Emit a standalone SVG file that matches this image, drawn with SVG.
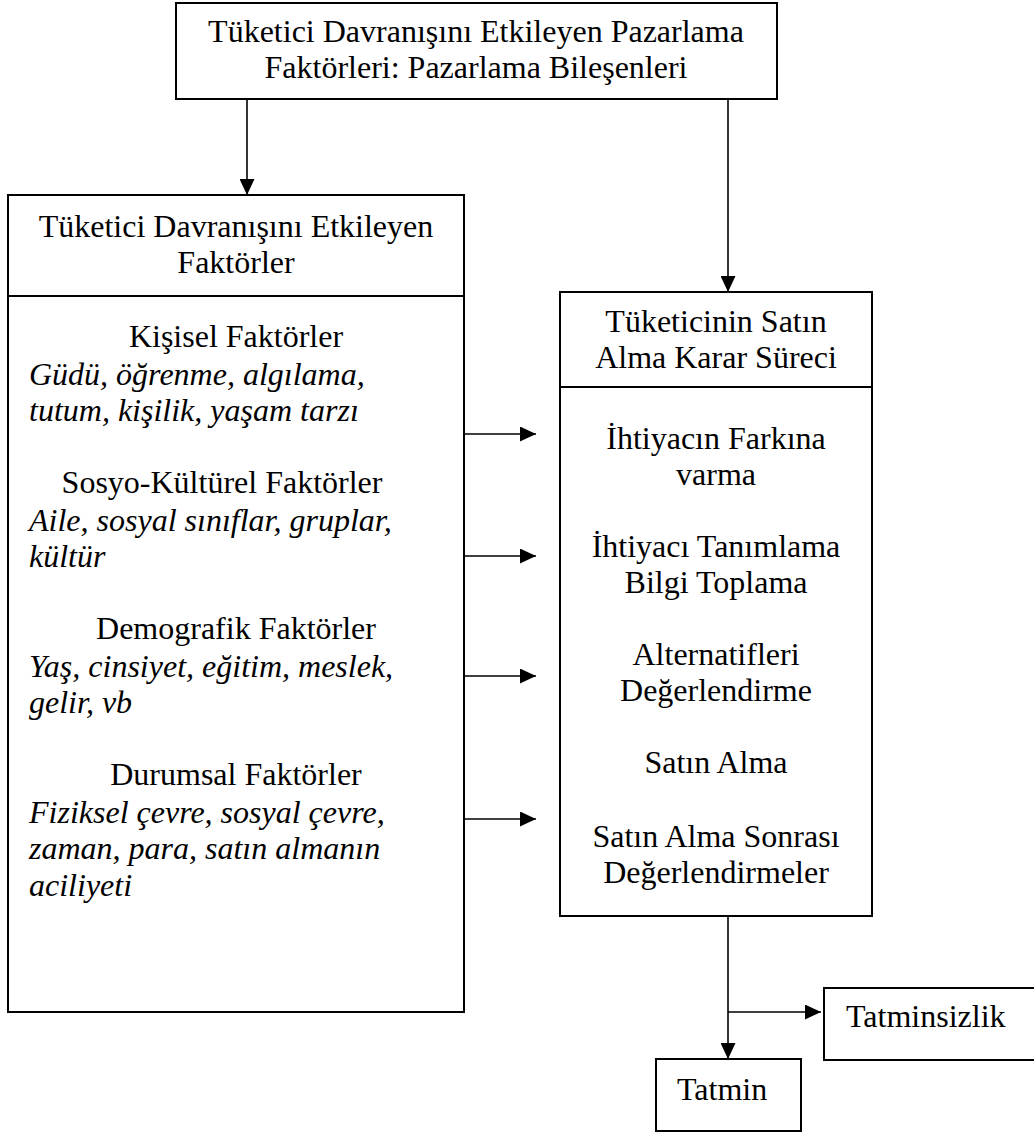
<svg xmlns="http://www.w3.org/2000/svg" width="1034" height="1133" viewBox="0 0 1034 1133">
<style>
.box{fill:#fff;stroke:#000;stroke-width:2}
.div{stroke:#000;stroke-width:2}
.ln{stroke:#000;stroke-width:1.6;fill:none}
.c{text-anchor:middle}
.i{font-style:italic}
</style>
<defs>
<marker id="ah" viewBox="0 0 16 15" refX="16" refY="7.5" markerWidth="16" markerHeight="15" markerUnits="userSpaceOnUse" orient="auto">
<path d="M0,0 L16,7.5 L0,15 Z" fill="#000"/>
</marker>
</defs>
<rect width="1034" height="1133" fill="#fff"/>
<g id="connectors">
<line class="ln" x1="247" y1="99" x2="247" y2="195" marker-end="url(#ah)"/>
<line class="ln" x1="728" y1="99" x2="728" y2="292" marker-end="url(#ah)"/>
<line class="ln" x1="464" y1="434" x2="536" y2="434" marker-end="url(#ah)"/>
<line class="ln" x1="464" y1="556" x2="536" y2="556" marker-end="url(#ah)"/>
<line class="ln" x1="464" y1="676" x2="536" y2="676" marker-end="url(#ah)"/>
<line class="ln" x1="464" y1="819" x2="536" y2="819" marker-end="url(#ah)"/>
<line class="ln" x1="728" y1="916" x2="728" y2="1059" marker-end="url(#ah)"/>
<line class="ln" x1="728" y1="1012" x2="821" y2="1012" marker-end="url(#ah)"/>
</g>
<g font-family="Liberation Serif, Times New Roman, Times, Tinos, DejaVu Serif, Noto Serif, Nimbus Roman, FreeSerif, serif" font-size="32" fill="#000">
<g id="top">
<rect class="box" x="176" y="3" width="601" height="96"/>
<text class="c" x="476" y="42">Tüketici Davranışını Etkileyen Pazarlama</text>
<text class="c" x="476" y="78">Faktörleri: Pazarlama Bileşenleri</text>
</g>
<g id="left">
<rect class="box" x="8" y="195" width="456" height="817"/>
<line class="div" x1="8" y1="296" x2="464" y2="296"/>
<text class="c" x="236" y="237">Tüketici Davranışını Etkileyen</text>
<text class="c" x="236" y="273">Faktörler</text>
<text class="c" x="236" y="347">Kişisel Faktörler</text>
<text class="i" x="29" y="385">Güdü, öğrenme, algılama,</text>
<text class="i" x="29" y="421">tutum, kişilik, yaşam tarzı</text>
<text class="c" x="222" y="493">Sosyo-Kültürel Faktörler</text>
<text class="i" x="29" y="531">Aile, sosyal sınıflar, gruplar,</text>
<text class="i" x="29" y="567">kültür</text>
<text class="c" x="236" y="639">Demografik Faktörler</text>
<text class="i" x="29" y="677">Yaş, cinsiyet, eğitim, meslek,</text>
<text class="i" x="29" y="713">gelir, vb</text>
<text class="c" x="236" y="785">Durumsal Faktörler</text>
<text class="i" x="29" y="823">Fiziksel çevre, sosyal çevre,</text>
<text class="i" x="29" y="859">zaman, para, satın almanın</text>
<text class="i" x="29" y="896">aciliyeti</text>
</g>
<g id="right">
<rect class="box" x="560" y="292" width="312" height="624"/>
<line class="div" x1="560" y1="387" x2="872" y2="387"/>
<text class="c" x="716" y="332">Tüketicinin Satın</text>
<text class="c" x="716" y="368">Alma Karar Süreci</text>
<text class="c" x="716" y="449">İhtiyacın Farkına</text>
<text class="c" x="716" y="485">varma</text>
<text class="c" x="716" y="557">İhtiyacı Tanımlama</text>
<text class="c" x="716" y="593">Bilgi Toplama</text>
<text class="c" x="716" y="665">Alternatifleri</text>
<text class="c" x="716" y="701">Değerlendirme</text>
<text class="c" x="716" y="773">Satın Alma</text>
<text class="c" x="716" y="847">Satın Alma Sonrası</text>
<text class="c" x="716" y="883">Değerlendirmeler</text>
</g>
<g id="tatminsizlik">
<rect class="box" x="824" y="988" width="220" height="72"/>
<text x="846" y="1027">Tatminsizlik</text>
</g>
<g id="tatmin">
<rect class="box" x="656" y="1059" width="145" height="72"/>
<text x="677" y="1100">Tatmin</text>
</g>
</g>
</svg>
